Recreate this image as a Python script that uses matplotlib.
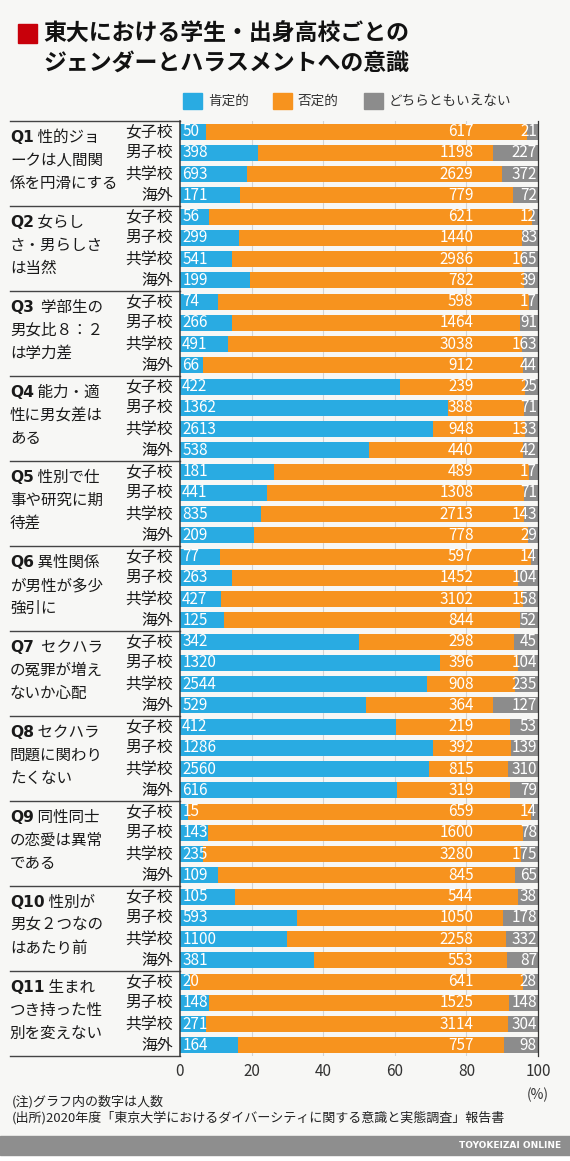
import numpy as np
import matplotlib
matplotlib.use("Agg")
from matplotlib import pyplot as plt
from matplotlib.patches import Rectangle
import matplotlib.transforms as mtransforms

plt.rcParams['font.family'] = ['Noto Sans CJK JP', 'DejaVu Sans']

schools = ['女子校', '男子校', '共学校', '海外']
q_ids = ['Q1', 'Q2', 'Q3', 'Q4', 'Q5', 'Q6', 'Q7', 'Q8', 'Q9', 'Q10', 'Q11']
q_text = [
    [' 性的ジョ', 'ークは人間関', '係を円滑にする'],
    [' 女らし', 'さ・男らしさ', 'は当然'],
    ['  学部生の', '男女比８：２', 'は学力差'],
    [' 能力・適', '性に男女差は', 'ある'],
    [' 性別で仕', '事や研究に期', '待差'],
    [' 異性関係', 'が男性が多少', '強引に'],
    ['  セクハラ', 'の冤罪が増え', 'ないか心配'],
    [' セクハラ', '問題に関わり', 'たくない'],
    [' 同性同士', 'の恋愛は異常', 'である'],
    [' 性別が', '男女２つなの', 'はあたり前'],
    [' 生まれ', 'つき持った性', '別を変えない'],
]

# counts per question, order: 女子校, 男子校, 共学校, 海外
positive = [
    [50, 398, 693, 171], [56, 299, 541, 199], [74, 266, 491, 66],
    [422, 1362, 2613, 538], [181, 441, 835, 209], [77, 263, 427, 125],
    [342, 1320, 2544, 529], [412, 1286, 2560, 616], [15, 143, 235, 109],
    [105, 593, 1100, 381], [20, 148, 271, 164],
]
negative = [
    [617, 1198, 2629, 779], [621, 1440, 2986, 782], [598, 1464, 3038, 912],
    [239, 388, 948, 440], [489, 1308, 2713, 778], [597, 1452, 3102, 844],
    [298, 396, 908, 364], [219, 392, 815, 319], [659, 1600, 3280, 845],
    [544, 1050, 2258, 553], [641, 1525, 3114, 757],
]
neutral = [
    [21, 227, 372, 72], [12, 83, 165, 39], [17, 91, 163, 44],
    [25, 71, 133, 42], [17, 71, 143, 29], [14, 104, 158, 52],
    [45, 104, 235, 127], [53, 139, 310, 79], [14, 78, 175, 65],
    [38, 178, 332, 87], [28, 148, 304, 98],
]
legend_labels = ['肯定的', '否定的', 'どちらともいえない']

c_pos, c_neg, c_neu = '#29abe2', '#f7931e', '#8c8c8c'
bg = '#f7f7f5'
num_font = ['Liberation Sans Narrow', 'Noto Sans CJK JP', 'DejaVu Sans']

pos = np.array(positive, float).ravel()
neg = np.array(negative, float).ravel()
neu = np.array(neutral, float).ravel()
tot = pos + neg + neu
p_pos, p_neg, p_neu = pos / tot * 100, neg / tot * 100, neu / tot * 100
y = np.arange(len(pos))

fig = plt.figure(figsize=(5.7, 11.61), dpi=100, facecolor=bg)
ax = fig.add_axes([180 / 570, 1 - 1056 / 1161, 358 / 570, 935 / 1161])
ax.set_facecolor('none')

h = 0.76
ax.barh(y, p_pos, height=h, color=c_pos, zorder=2)
ax.barh(y, p_neg, left=p_pos, height=h, color=c_neg, zorder=2)
ax.barh(y, p_neu, left=p_pos + p_neg, height=h, color=c_neu, zorder=2)

for i in range(len(y)):
    kw = dict(color='white', fontsize=11, va='center', family=num_font, zorder=3)
    ax.text(0.6, y[i], f'{int(pos[i])}', ha='left', **kw)
    ax.text(82, y[i], f'{int(neg[i])}', ha='right', **kw)
    ax.text(99.7, y[i], f'{int(neu[i])}', ha='right', **kw)

ax.set_xlim(0, 100)
ax.set_ylim(len(y) - 0.5, -0.5)
ax.set_xticks([0, 20, 40, 60, 80, 100])
ax.tick_params(axis='x', length=0, labelsize=11, labelcolor='#333333', pad=5)
ax.set_yticks([])
for x in [20, 40, 60, 80]:
    ax.axvline(x, color='#d4d4d4', lw=0.8, zorder=1)
for s in ['top', 'bottom']:
    ax.spines[s].set_visible(False)
ax.spines['left'].set_color('#333333')
ax.spines['left'].set_linewidth(1.1)
ax.spines['right'].set_color('#333333')
ax.spines['right'].set_linewidth(0.9)
ax.annotate('(%)', xy=(1, 0), xycoords='axes fraction', xytext=(0, -23),
            textcoords='offset points', ha='center', va='top', fontsize=10,
            color='#333333')

# school labels, question labels, separators
trans = mtransforms.blended_transform_factory(ax.transAxes, ax.transData)
for i in range(len(y)):
    ax.text(-0.02, y[i], schools[i % 4], transform=trans, ha='right', va='center',
            fontsize=11.4, color='#1a1a1a')
for k in range(len(q_ids) + 1):
    ax.plot([-0.475, 0], [4 * k - 0.5] * 2, transform=trans, color='#444444',
            lw=1, clip_on=False)
for k, qid in enumerate(q_ids):
    base = 4 * k - 0.5
    t = ax.text(-0.475, base + 0.78, qid, transform=trans, ha='left', va='center',
                fontsize=11.2, fontweight='bold', color='#1a1a1a',
                family=['DejaVu Sans'])
    ax.annotate(q_text[k][0], xy=(1, 0.5), xycoords=t, ha='left', va='center',
                fontsize=11.2, color='#1a1a1a')
    ax.text(-0.475, base + 1.86, q_text[k][1], transform=trans, ha='left',
            va='center', fontsize=11.2, color='#1a1a1a')
    ax.text(-0.475, base + 2.94, q_text[k][2], transform=trans, ha='left',
            va='center', fontsize=11.2, color='#1a1a1a')

# title
fig.patches.append(Rectangle((18 / 570, 1 - 43 / 1161), 19 / 570, 19 / 1161,
                             transform=fig.transFigure, color='#c8000a'))
fig.text(43 / 570, 1 - 34 / 1161, '東大における学生・出身高校ごとの', fontsize=16.5,
         fontweight='bold', va='center', ha='left', color='#111111')
fig.text(43 / 570, 1 - 63 / 1161, 'ジェンダーとハラスメントへの意識', fontsize=16.5,
         fontweight='bold', va='center', ha='left', color='#111111')

# legend
leg_x = [183, 273, 364]
for lx, lab, col in zip(leg_x, legend_labels, [c_pos, c_neg, c_neu]):
    fig.patches.append(Rectangle((lx / 570, 1 - 109 / 1161), 19 / 570, 16 / 1161,
                                 transform=fig.transFigure, color=col))
    fig.text((lx + 25) / 570, 1 - 101 / 1161, lab, fontsize=9.8, va='center',
             ha='left', color='#333333')

# notes
fig.text(12 / 570, 1 - 1102 / 1161, '(注)グラフ内の数字は人数', fontsize=9.4,
         va='center', ha='left', color='#222222')
fig.text(12 / 570, 1 - 1118 / 1161,
         '(出所)2020年度「東京大学におけるダイバーシティに関する意識と実態調査」報告書',
         fontsize=9.4, va='center', ha='left', color='#222222')

# footer band
fig.patches.append(Rectangle((0, 0), 1, 6 / 1161, transform=fig.transFigure,
                             color='white'))
fig.patches.append(Rectangle((0, 6 / 1161), 1, 19 / 1161, transform=fig.transFigure,
                             color='#8e8e8e'))
fig.text(561 / 570, 1 - 1146 / 1161, 'TOYOKEIZAI ONLINE', fontsize=6.5,
         fontweight='bold', va='center', ha='right', color='white',
         family=['DejaVu Sans'])

fig.savefig('out.png', dpi=100, facecolor=bg)
